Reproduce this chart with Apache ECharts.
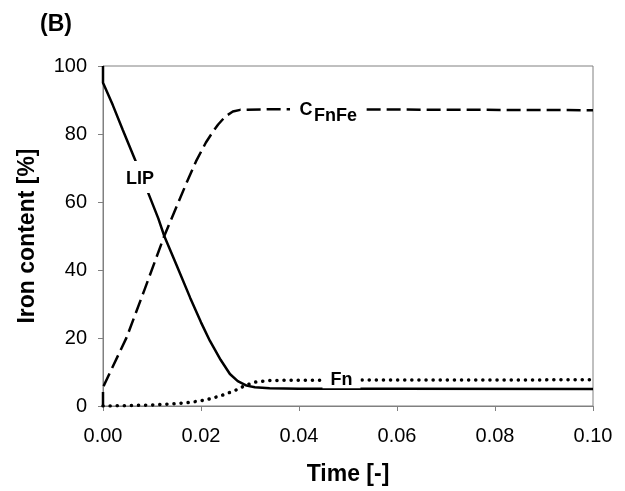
<!DOCTYPE html>
<html>
<head>
<meta charset="utf-8">
<script src="https://cdn.jsdelivr.net/npm/echarts@6/dist/echarts.min.js"></script>
<style>
html,body{margin:0;padding:0;background:#fff;}
#chart{width:625px;height:491px;}
</style>
</head>
<body>
<div id="chart"></div>
<script>
// ---- data ----
var lipTime = [0, 0, 0.002, 0.004, 0.0065, 0.009, 0.0113, 0.0125, 0.015, 0.0178, 0.02, 0.0218, 0.024, 0.0259, 0.0275, 0.0293, 0.031, 0.034, 0.04, 0.06, 0.1];
var lipValue = [100, 95.1, 88.5, 81.3, 72.6, 63.5, 55.1, 50.0, 41.5, 31.8, 24.6, 19.2, 13.6, 9.4, 7.3, 6.0, 5.5, 5.2, 5.1, 5.05, 5.0];

var cfnfeTime = [0, 0, 0.0048, 0.0085, 0.0125, 0.0171, 0.019, 0.021, 0.0225, 0.0235, 0.025, 0.0265, 0.028, 0.035, 0.1];
var cfnfeValue = [0, 5.5, 20.1, 34.3, 50.0, 65.8, 72.0, 77.5, 80.8, 82.8, 85.2, 86.6, 87.1, 87.3, 87.0];

var fnTime = [0, 0.005, 0.01, 0.015, 0.018, 0.021, 0.024, 0.027, 0.029, 0.031, 0.034, 0.04, 0.1];
var fnValue = [0, 0.1, 0.3, 0.7, 1.1, 1.8, 3.0, 4.6, 6.0, 7.0, 7.5, 7.6, 7.7];

var xTicks = [0, 0.02, 0.04, 0.06, 0.08, 0.10];
var yTicks = [0, 20, 40, 60, 80, 100];

// curve labels: text and anchor (time, value)
var labelText  = ['LIP',   'C',     'FnFe',  'Fn'];
var labelTime  = [0.00755, 0.04143, 0.04745, 0.04867];
var labelValue = [66.8,    87.03,   85.28,   7.73];

// white gaps cut into the curves behind the labels (time, value)
var gapTime  = [0.00755, 0.04582, 0.04867];
var gapValue = [67.35,   87.2,    7.58];

function pairs(xs, ys) { return xs.map(function (x, i) { return [x, ys[i]]; }); }

var FONT = '"Liberation Sans", Arial, sans-serif';
var AXIS_COLOR = '#808080';
var gapSizes = [[32, 32], [75, 14], [38, 16]];

var markData = [];
gapTime.forEach(function (t, i) {
  markData.push({
    coord: [t, gapValue[i]], symbol: 'rect', symbolSize: gapSizes[i],
    itemStyle: {color: '#fff'}, label: {show: false}
  });
});
labelTime.forEach(function (t, i) {
  markData.push({
    coord: [t, labelValue[i]], symbol: 'rect', symbolSize: [1, 1],
    itemStyle: {color: '#fff'},
    label: {show: true, position: 'inside', formatter: labelText[i],
      color: '#000', fontFamily: FONT, fontSize: 18, fontWeight: 'bold',
      textBorderWidth: 0}
  });
});

var chart = echarts.init(document.getElementById('chart'), null, {renderer: 'canvas'});
chart.setOption({
  animation: false,
  backgroundColor: '#fff',
  textStyle: {fontFamily: FONT, color: '#000'},
  graphic: [{
    type: 'text', left: 40, top: 13,
    style: {text: '(B)', fontFamily: FONT, fontSize: 23, fontWeight: 'bold', fill: '#000'}
  }],
  grid: {
    left: 103, right: 32, top: 66, bottom: 82,
    show: true, borderColor: AXIS_COLOR, borderWidth: 1, backgroundColor: 'transparent'
  },
  xAxis: {
    type: 'value', min: xTicks[0], max: xTicks[xTicks.length - 1], interval: 0.02,
    name: 'Time [-]', nameLocation: 'middle', nameGap: 57,
    nameTextStyle: {fontFamily: FONT, fontSize: 23, fontWeight: 'bold', color: '#000'},
    axisLine: {show: true, lineStyle: {color: AXIS_COLOR, width: 1}},
    axisTick: {show: true, inside: false, length: 5, lineStyle: {color: AXIS_COLOR}},
    axisLabel: {margin: 20, fontFamily: FONT, fontSize: 20, color: '#000',
      formatter: function (v) { return v.toFixed(2); }},
    splitLine: {show: false}
  },
  yAxis: {
    type: 'value', min: yTicks[0], max: yTicks[yTicks.length - 1], interval: 20,
    name: 'Iron content [%]', nameLocation: 'middle', nameGap: 64,
    nameTextStyle: {fontFamily: FONT, fontSize: 23, fontWeight: 'bold', color: '#000'},
    axisLine: {show: true, lineStyle: {color: AXIS_COLOR, width: 1}},
    axisTick: {show: true, inside: false, length: 5, lineStyle: {color: AXIS_COLOR}},
    axisLabel: {margin: 16, fontFamily: FONT, fontSize: 20, color: '#000'},
    splitLine: {show: false}
  },
  series: [
    {
      name: 'LIP', type: 'line', data: pairs(lipTime, lipValue), showSymbol: false, symbol: 'none',
      lineStyle: {color: '#000', width: 2.5, type: 'solid'}, z: 3
    },
    {
      name: 'CFnFe', type: 'line', data: pairs(cfnfeTime, cfnfeValue), showSymbol: false, symbol: 'none',
      lineStyle: {color: '#000', width: 2.5, type: [14, 6]}, z: 3
    },
    {
      name: 'Fn', type: 'line', data: pairs(fnTime, fnValue), showSymbol: false, symbol: 'none',
      lineStyle: {color: '#000', width: 3.5, type: [0.1, 7], cap: 'round'}, z: 3,
      markPoint: {z: 20, silent: true, animation: false, data: markData}
    }
  ]
});
</script>
</body>
</html>
